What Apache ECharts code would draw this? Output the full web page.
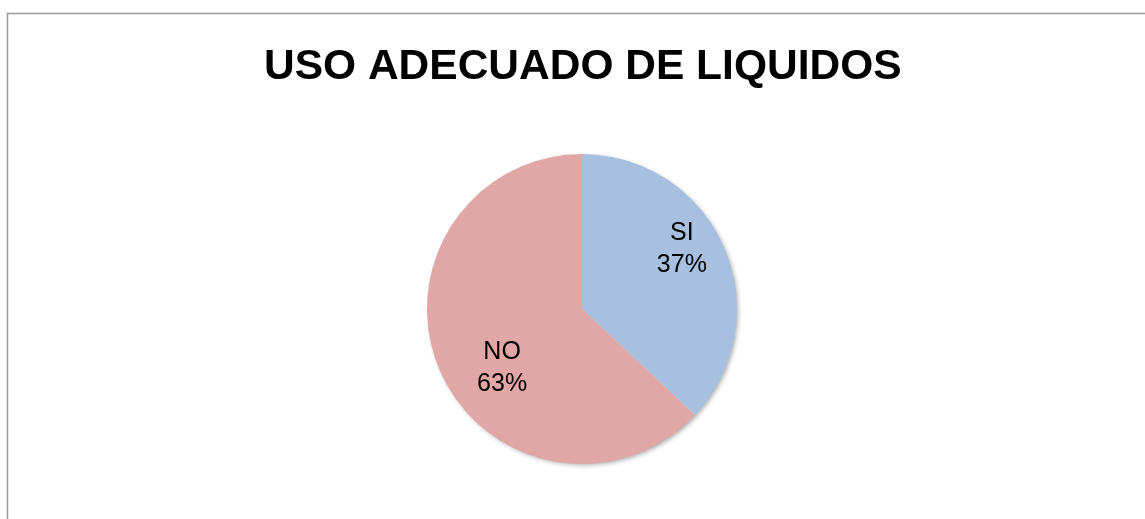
<!DOCTYPE html>
<html>
<head>
<meta charset="utf-8">
<title>Uso adecuado de liquidos</title>
<script src="https://cdn.jsdelivr.net/npm/echarts@6/dist/echarts.min.js"></script>
<style>
html, body { margin: 0; padding: 0; background: #fff; }
#main { width: 1145px; height: 519px; }
</style>
</head>
<body>
<div id="main"></div>
<script>
// datos del grafico
var categorias = ['SI', 'NO'];
var valores = [37, 63];
var colores = ['#A7C0DF', '#E1A7A6'];

// desplazamiento de etiquetas (como en Excel)
var desplaza = [[26, -28], [-6, 27]];

var myChart = echarts.init(document.getElementById('main'));

var datos = categorias.map(function (c, i) {
    return { name: c, value: valores[i], itemStyle: { color: colores[i] } };
});

var option = {
    backgroundColor: '#fff',
    animation: false,
    title: {
        text: 'USO ADECUADO DE LIQUIDOS',
        left: 259,
        top: 41,
        textStyle: {
            fontFamily: 'Liberation Sans, Arial, sans-serif',
            fontWeight: 'bold',
            fontSize: 42.5,
            color: '#000'
        }
    },
    graphic: [{
        // marco del area del grafico
        type: 'rect',
        left: 5,
        top: 11,
        shape: { width: 1200, height: 600 },
        style: { fill: 'none', stroke: '#9a9a9a', lineWidth: 1.5 },
        silent: true,
        z: -1
    }],
    series: [{
        // sombra del circulo
        type: 'pie',
        center: [582, 309],
        radius: 154,
        silent: true,
        z: 1,
        label: { show: false },
        labelLine: { show: false },
        itemStyle: {
            color: '#ddd',
            shadowBlur: 5,
            shadowOffsetX: 2,
            shadowOffsetY: 2,
            shadowColor: 'rgba(0,0,0,0.35)'
        },
        data: [1]
    }, {
        type: 'pie',
        center: [582, 309],
        radius: 155,
        startAngle: 90,
        clockwise: true,
        silent: true,
        z: 2,
        label: {
            show: true,
            position: 'inner',
            formatter: '{b}\n{d}%',
            fontFamily: 'Liberation Sans, Arial, sans-serif',
            fontSize: 25,
            lineHeight: 32,
            color: '#000'
        },
        labelLine: { show: false },
        labelLayout: function (params) {
            var d = desplaza[params.dataIndex];
            return { dx: d[0], dy: d[1] };
        },
        data: datos
    }]
};

myChart.setOption(option);

window.addEventListener('resize', function () {
    myChart.resize();
});
</script>
</body>
</html>
